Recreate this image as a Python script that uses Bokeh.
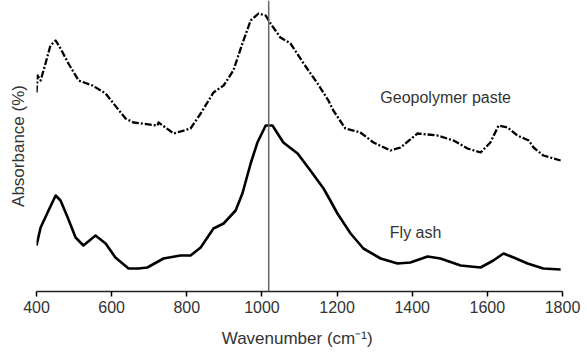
from bokeh.plotting import figure
from bokeh.models import Range1d, Span, FixedTicker, LinearAxis
from bokeh.core.properties import value
from bokeh.embed import file_html
from bokeh.resources import INLINE

# Geopolymer paste spectrum (arbitrary absorbance units)
geo_wn = [400, 403, 411, 424, 437, 451, 464, 485, 512, 549, 584, 605, 637, 658, 722, 725, 765, 810, 837, 871,
          898, 924, 948, 970, 991, 1010, 1023, 1049, 1076, 1111, 1148, 1177, 1190, 1222, 1262, 1297, 1342,
          1369, 1414, 1467, 1510, 1547, 1582, 1608, 1630, 1654, 1680, 1710, 1723, 1749, 1795]
geo_abs = [199, 216, 211, 228, 246, 251, 243, 228, 211, 206, 198, 188, 173, 169, 166, 169, 158, 163, 178, 199,
           206, 221, 248, 271, 278, 276, 268, 254, 248, 228, 208, 191, 181, 163, 159, 149, 141,
           144, 158, 156, 151, 143, 139, 149, 166, 164, 156, 151, 144, 136, 131]

# Fly ash spectrum
fa_wn = [400, 411, 432, 451, 464, 483, 504, 525, 557, 584, 610, 645, 671, 695, 738, 783, 810, 837, 871, 898,
         930, 948, 970, 988, 1010, 1028, 1057, 1095, 1129, 1164, 1182, 1201, 1236, 1270, 1316, 1361, 1395,
         1441, 1475, 1529, 1582, 1616, 1643, 1670, 1707, 1749, 1795]
fa_abs = [46, 64, 81, 96, 91, 74, 54, 46, 56, 48, 34, 23, 23, 24, 33, 36, 36, 44, 63, 68,
          81, 98, 128, 149, 166, 166, 149, 138, 121, 103, 91, 78, 58, 43, 33, 28, 29,
          35, 33, 26, 24, 31, 38, 34, 28, 23, 22]

x_ticks = [400, 600, 800, 1000, 1200, 1400, 1600, 1800]
marker_wn = 1018
labels = ["Geopolymer paste", "Fly ash"]
label_x = [1489, 1409]
label_y = [194, 59]

FONT = "Liberation Sans"

p = figure(width=587, height=353, output_backend="svg", toolbar_location=None,
           x_range=Range1d(400, 1800), y_range=Range1d(0, 291),
           min_border_left=36, min_border_right=25, min_border_top=0, min_border_bottom=62,
           y_axis_location=None, x_axis_location=None)
p.outline_line_color = None
p.grid.visible = False
p.background_fill_color = "white"

xaxis = LinearAxis(ticker=FixedTicker(ticks=x_ticks))
xaxis.axis_label = "Wavenumber  (cm\u207b\u00b9)"
xaxis.axis_label_text_font = FONT
xaxis.axis_label_text_font_style = "normal"
xaxis.axis_label_text_font_size = "17px"
xaxis.axis_label_text_color = "#333333"
xaxis.axis_label_standoff = 13
xaxis.major_label_text_font = FONT
xaxis.major_label_text_font_size = "16px"
xaxis.major_label_text_color = "#333333"
xaxis.major_label_standoff = 4
xaxis.major_tick_in = 0
xaxis.major_tick_out = 5
xaxis.minor_tick_line_color = None
xaxis.axis_line_color = "#222222"
xaxis.axis_line_width = 1.5
xaxis.major_tick_line_width = 1.5
p.add_layout(xaxis, "below")

yaxis = LinearAxis(ticker=FixedTicker(ticks=[]))
yaxis.axis_label = "Absorbance (%)"
yaxis.axis_label_text_font = FONT
yaxis.axis_label_text_font_style = "normal"
yaxis.axis_label_text_font_size = "17px"
yaxis.axis_label_text_color = "#333333"
yaxis.axis_line_color = None
yaxis.major_tick_line_color = None
yaxis.minor_tick_line_color = None
yaxis.major_tick_out = 0
yaxis.major_label_standoff = 0
yaxis.major_label_text_font_size = "0px"
yaxis.axis_label_standoff = 9
p.add_layout(yaxis, "left")

p.add_layout(Span(location=marker_wn, dimension="height", line_color="#666666", line_width=1.5))

p.line(geo_wn, geo_abs, line_color="black", line_width=2.3, line_dash="7 2 2 2", line_join="round")
p.line(fa_wn, fa_abs, line_color="black", line_width=2.6, line_join="round")

p.text(x=label_x, y=label_y, text=labels, text_font=value(FONT), text_font_size="16px",
       text_color="#333333", text_align="center", text_baseline="middle")

open("out.html", "w").write(file_html(p, INLINE))
